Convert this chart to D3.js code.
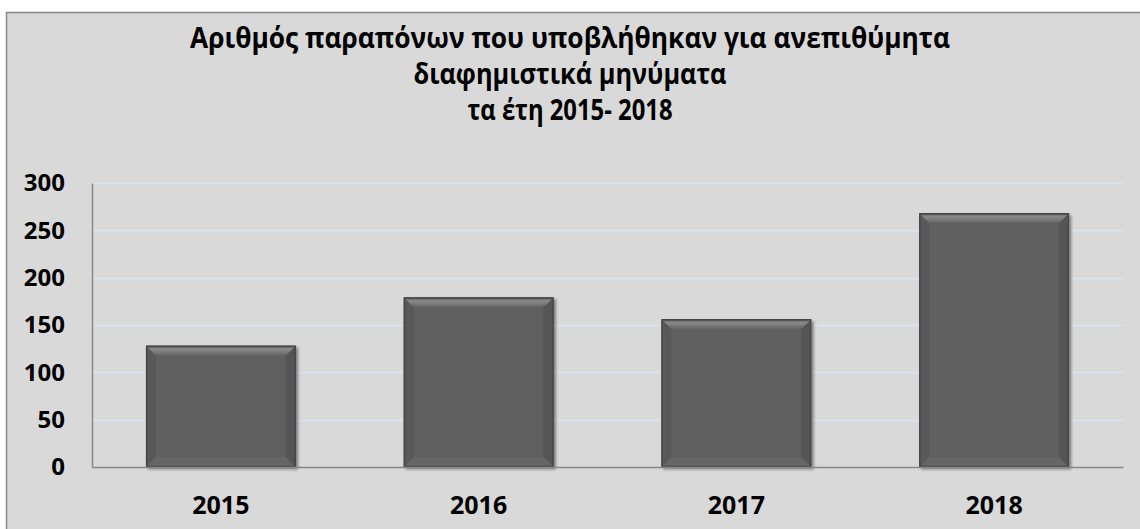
<!DOCTYPE html>
<html>
<head>
<meta charset="utf-8">
<script src="https://cdn.jsdelivr.net/npm/d3@7"></script>
<style>
    html, body { margin: 0; padding: 0; background: #ffffff; }
    svg { display: block; }
</style>
</head>
<body>
<div id="chart"></div>
<script>
// Données du graphique
const years = ['2015', '2016', '2017', '2018'];
const complaints = [128, 179, 156, 268];
const yTicks = [0, 50, 100, 150, 200, 250, 300];
const titleLines = [
    'Αριθμός παραπόνων που υποβλήθηκαν για ανεπιθύμητα',
    'διαφημιστικά μηνύματα',
    'τα έτη 2015- 2018'
];

const width = 1140;
const height = 529;
const margin = { top: 183, right: 17, bottom: 62, left: 92 };
const plotW = width - margin.left - margin.right;
const plotH = height - margin.top - margin.bottom;

const svg = d3.select('#chart')
    .append('svg')
    .attr('width', width)
    .attr('height', height);

// Fond et cadre
svg.append('rect')
    .attr('x', 6.5).attr('y', 12.5)
    .attr('width', width + 10).attr('height', height + 10)
    .attr('fill', '#d9d9d9')
    .attr('stroke', '#878787')
    .attr('stroke-width', 1.5);

// Titre
const titleWidths = [760, 313, 205];
const titleBase = [48, 84, 120];
svg.append('g').selectAll('text')
    .data(titleLines)
    .join('text')
    .attr('x', width / 2)
    .attr('y', (d, i) => titleBase[i])
    .attr('text-anchor', 'middle')
    .attr('font-family', '"Open Sans", sans-serif')
    .attr('font-weight', 'bold')
    .attr('font-size', 28)
    .attr('fill', '#000')
    .attr('textLength', (d, i) => titleWidths[i])
    .attr('lengthAdjust', 'spacingAndGlyphs')
    .text(d => d);

const g = svg.append('g')
    .attr('transform', `translate(${margin.left},${margin.top})`);

// Échelles
const x = d3.scaleBand()
    .domain(years)
    .range([0, plotW])
    .paddingInner(0.42)
    .paddingOuter(0.21);

const y = d3.scaleLinear()
    .domain([0, 300])
    .range([plotH, 0]);

// Grille
g.append('g')
    .selectAll('line')
    .data(yTicks.filter(t => t > 0))
    .join('line')
    .attr('x1', 0).attr('x2', plotW)
    .attr('y1', d => Math.round(y(d)) + 0.5)
    .attr('y2', d => Math.round(y(d)) + 0.5)
    .attr('stroke', '#dae4f2')
    .attr('stroke-width', 1.5);

// Axe Y
const yAxis = g.append('g')
    .call(d3.axisLeft(y).tickValues(yTicks).tickSize(0).tickPadding(27));
yAxis.select('.domain')
    .attr('stroke', '#878787')
    .attr('stroke-width', 1.5);
yAxis.selectAll('text')
    .attr('font-family', '"Open Sans", sans-serif')
    .attr('font-weight', 'bold')
    .attr('font-size', 24)
    .attr('fill', '#000');

// Ombres et barres en relief
const defs = svg.append('defs');
const shadow = defs.append('filter').attr('id', 'shadow')
    .attr('x', '-10%').attr('y', '-10%').attr('width', '120%').attr('height', '120%');
shadow.append('feGaussianBlur').attr('in', 'SourceAlpha').attr('stdDeviation', 1.5);
shadow.append('feOffset').attr('dx', 1.5).attr('dy', 1.5).attr('result', 'off');
shadow.append('feComponentTransfer').append('feFuncA').attr('type', 'linear').attr('slope', 0.45);
const merge = shadow.append('feMerge');
merge.append('feMergeNode');
merge.append('feMergeNode').attr('in', 'SourceGraphic');

const topGrad = defs.append('linearGradient').attr('id', 'topBevel')
    .attr('x1', 0).attr('y1', 0).attr('x2', 0).attr('y2', 1);
topGrad.append('stop').attr('offset', '0%').attr('stop-color', '#5c5c5c');
topGrad.append('stop').attr('offset', '35%').attr('stop-color', '#8a8a8a');
topGrad.append('stop').attr('offset', '100%').attr('stop-color', '#626262');

const bw = x.bandwidth();
const bev = 10;

const bars = g.append('g')
    .selectAll('g')
    .data(years.map((yr, i) => ({ yr, v: complaints[i] })))
    .join('g')
    .attr('transform', d => `translate(${x(d.yr)},${y(d.v)})`)
    .attr('filter', 'url(#shadow)');

bars.append('rect')
    .attr('width', bw)
    .attr('height', d => plotH - y(d.v))
    .attr('fill', '#606060');

// côtés
bars.append('path')
    .attr('d', d => {
        const h = plotH - y(d.v);
        return `M0,0 L${bev},${bev} L${bev},${h - bev} L0,${h} Z`;
    })
    .attr('fill', '#595959');
bars.append('path')
    .attr('d', d => {
        const h = plotH - y(d.v);
        return `M${bw},0 L${bw - bev},${bev} L${bw - bev},${h - bev} L${bw},${h} Z`;
    })
    .attr('fill', '#555555');
bars.append('path')
    .attr('d', d => {
        const h = plotH - y(d.v);
        return `M0,${h} L${bev},${h - bev} L${bw - bev},${h - bev} L${bw},${h} Z`;
    })
    .attr('fill', '#666666');
bars.append('path')
    .attr('d', `M0,0 L${bw},0 L${bw - bev},${bev} L${bev},${bev} Z`)
    .attr('fill', 'url(#topBevel)');

bars.append('rect')
    .attr('x', 0.5).attr('y', 0.5)
    .attr('width', bw - 1)
    .attr('height', d => plotH - y(d.v) - 1)
    .attr('fill', 'none')
    .attr('stroke', '#474747')
    .attr('stroke-width', 1.5);

// Axe X
const xAxis = g.append('g')
    .attr('transform', `translate(0,${plotH})`)
    .call(d3.axisBottom(x).tickSize(0).tickPadding(29));
xAxis.select('.domain')
    .attr('stroke', '#878787')
    .attr('stroke-width', 1.5);
xAxis.selectAll('text')
    .attr('font-family', '"Open Sans", sans-serif')
    .attr('font-weight', 'bold')
    .attr('font-size', 25)
    .attr('fill', '#000');
</script>
</body>
</html>
